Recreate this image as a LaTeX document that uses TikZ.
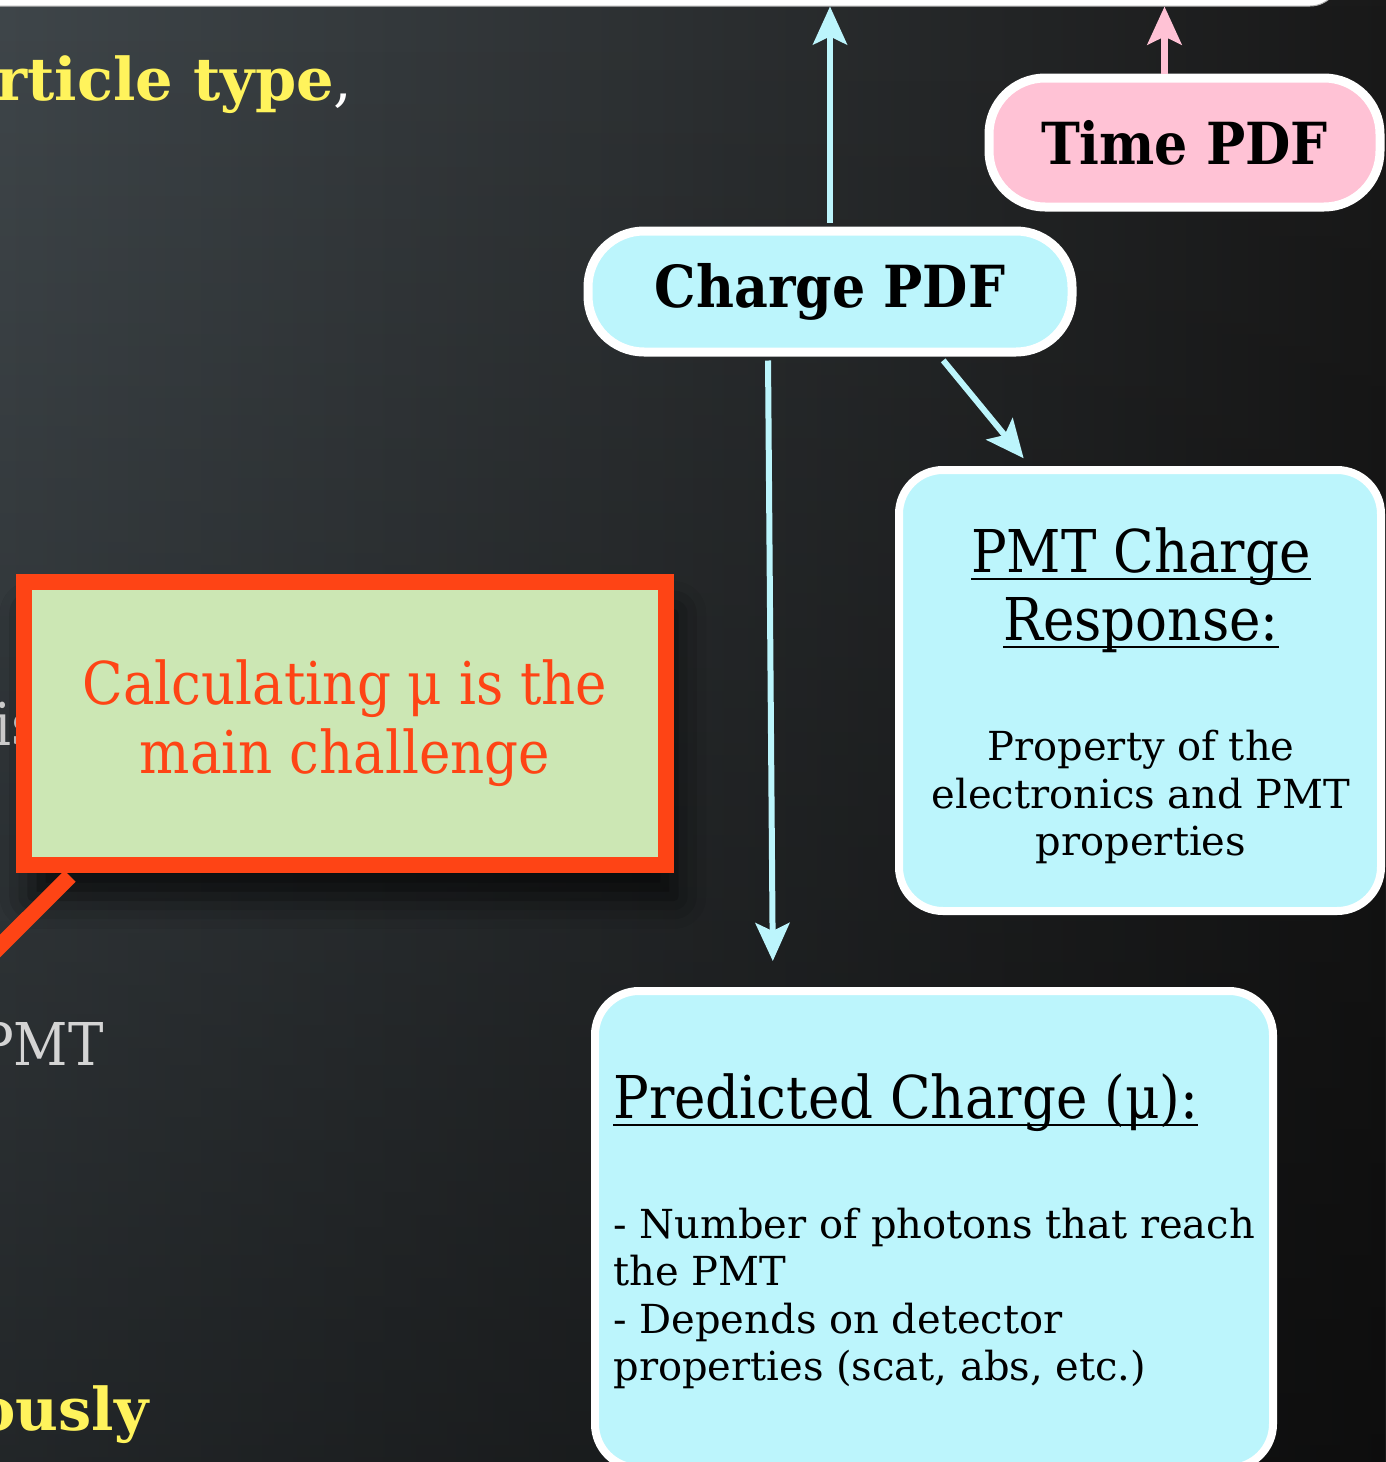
\documentclass[tikz,border=0pt]{standalone}
\usepackage{fontspec}
\setmainfont{DejaVu Serif}
\newfontfamily\narrowserif[FakeStretch=0.9]{DejaVu Serif}
\usetikzlibrary{arrows.meta,shadows.blur,fadings}

\definecolor{slatebg}{HTML}{3F464A}
\definecolor{darkbg}{HTML}{191919}
\definecolor{boxcyan}{HTML}{BCF5FC}
\definecolor{timepink}{HTML}{FFC2D5}
\definecolor{notegreen}{HTML}{CCE7B4}
\definecolor{noteorange}{HTML}{FE4415}
\definecolor{slideyellow}{HTML}{FFF35C}
\definecolor{slidegray}{HTML}{D4D4D4}

% underlined heading, rule a bit below the baseline
\newsavebox\ulsave
\newcommand\ulbox[1]{\sbox\ulsave{#1}\rlap{\rule[-4pt]{\wd\ulsave}{0.9pt}}\usebox\ulsave}

\begin{document}
\begin{tikzpicture}[x=0.5pt, y=-0.5pt,
    pill/.style={draw=white, line width=4.5pt, rounded corners=28pt, inner sep=0pt,
      font=\narrowserif\bfseries\fontsize{29}{34}\selectfont},
    panel/.style={draw=white, line width=4pt, fill=boxcyan, rounded corners=22pt, inner sep=0pt},
    note/.style={draw=noteorange, line width=8pt, fill=notegreen, text=noteorange, align=center,
      font=\narrowserif\fontsize{29.5}{34.5}\selectfont,
      blur shadow={shadow xshift=4pt, shadow yshift=-16pt, shadow blur radius=16pt, shadow opacity=75}},
    head/.style={font=\narrowserif\fontsize{29.5}{34}\selectfont, inner sep=0pt},
    body/.style={font=\fontsize{20}{24}\selectfont, inner sep=0pt},
    slide/.style={font=\fontsize{29.5}{34}\selectfont, inner sep=0pt},
    flow/.style={color=boxcyan, line width=3pt, -{Stealth[length=19pt,width=17pt,inset=4pt]}},
  ]
  \useasboundingbox (0,0) rectangle (1386,1462);
  % slide background
  \fill[left color=slatebg, right color=darkbg] (0,0) rectangle (1386,1462);
  \fill[black, opacity=0.45, path fading=north] (0,0) rectangle (1386,1462);

  % slide text behind the diagram
  \draw (-4,100) node[slide, anchor=base west, text=white] (ptype) {\textcolor{slideyellow}{\bfseries rticle type},};
  \draw (-24,1430) node[slide, anchor=base west, text=slideyellow, font=\bfseries\fontsize{29.5}{34}\selectfont] (ously) {ously};
  \draw (-6,745) node[head, anchor=base west, text=slidegray] (is) {is};
  \draw (104,1065) node[head, anchor=base east, text=slidegray] (pmtword) {PMT};

  % box the PDFs feed into
  \draw (620,-97) node[rectangle, rounded corners=15pt, fill=white, draw=gray!60, line width=0.5pt,
    minimum width=720pt, minimum height=103pt] (likelihood) {};

  \draw (1184.5,142.5) node[pill, fill=timepink, minimum width=195.5pt, minimum height=64.5pt] (time) {Time PDF};
  \draw (830,291.5) node[pill, fill=boxcyan, minimum width=242pt, minimum height=60.5pt] (charge) {Charge PDF};
  \draw (1140,690.5) node[panel, minimum width=241pt, minimum height=220.5pt] (response) {};
  \draw (934,1229.5) node[panel, minimum width=339pt, minimum height=238.5pt] (predicted) {};

  % PMT response text
  \draw (1141,572) node[head, anchor=base] (resphead1) {\ulbox{PMT Charge}};
  \draw (1141,640) node[head, anchor=base] (resphead2) {\ulbox{Response:}};
  \draw (1141,760) node[body, anchor=base] (resp1) {Property of the};
  \draw (1141,808) node[body, anchor=base] (resp2) {electronics and PMT};
  \draw (1141,855) node[body, anchor=base] (resp3) {properties};

  % predicted charge text
  \draw (613,1118) node[head, anchor=base west] (predhead) {\ulbox{Predicted Charge (μ):}};
  \draw (613,1238) node[body, anchor=base west] (pred1) {- Number of photons that reach};
  \draw (613,1285) node[body, anchor=base west] (pred2) {the PMT};
  \draw (613,1333) node[body, anchor=base west] (pred3) {- Depends on detector};
  \draw (613,1380) node[body, anchor=base west] (pred4) {properties (scat, abs, etc.)};

  % callout
  \draw (345,723) node[note, minimum width=321pt, minimum height=141.5pt] (challenge)
    {Calculating μ is the\\main challenge};
  \coordinate (tailend) at (-15,961);
  \draw[noteorange, line width=8pt] ([xshift=27pt,yshift=-1.8pt]challenge.south west) -- (tailend);

  % arrows
  \coordinate (timeout) at ([xshift=-10pt]time.north);
  \draw[flow, shorten <=2pt] (charge.north) -- (charge.north |- likelihood.south);
  \draw[flow, shorten <=2pt, shorten >=13pt] ([xshift=-31pt]charge.south) -- ([xshift=-80.5pt]predicted.north);
  \draw[flow, shorten <=2.5pt, shorten >=5pt] ([xshift=55pt]charge.south) -- ([xshift=-55pt]response.north);
  \draw[flow, color=timepink, line width=3.5pt] (timeout) -- (timeout |- likelihood.south);
\end{tikzpicture}
\end{document}
